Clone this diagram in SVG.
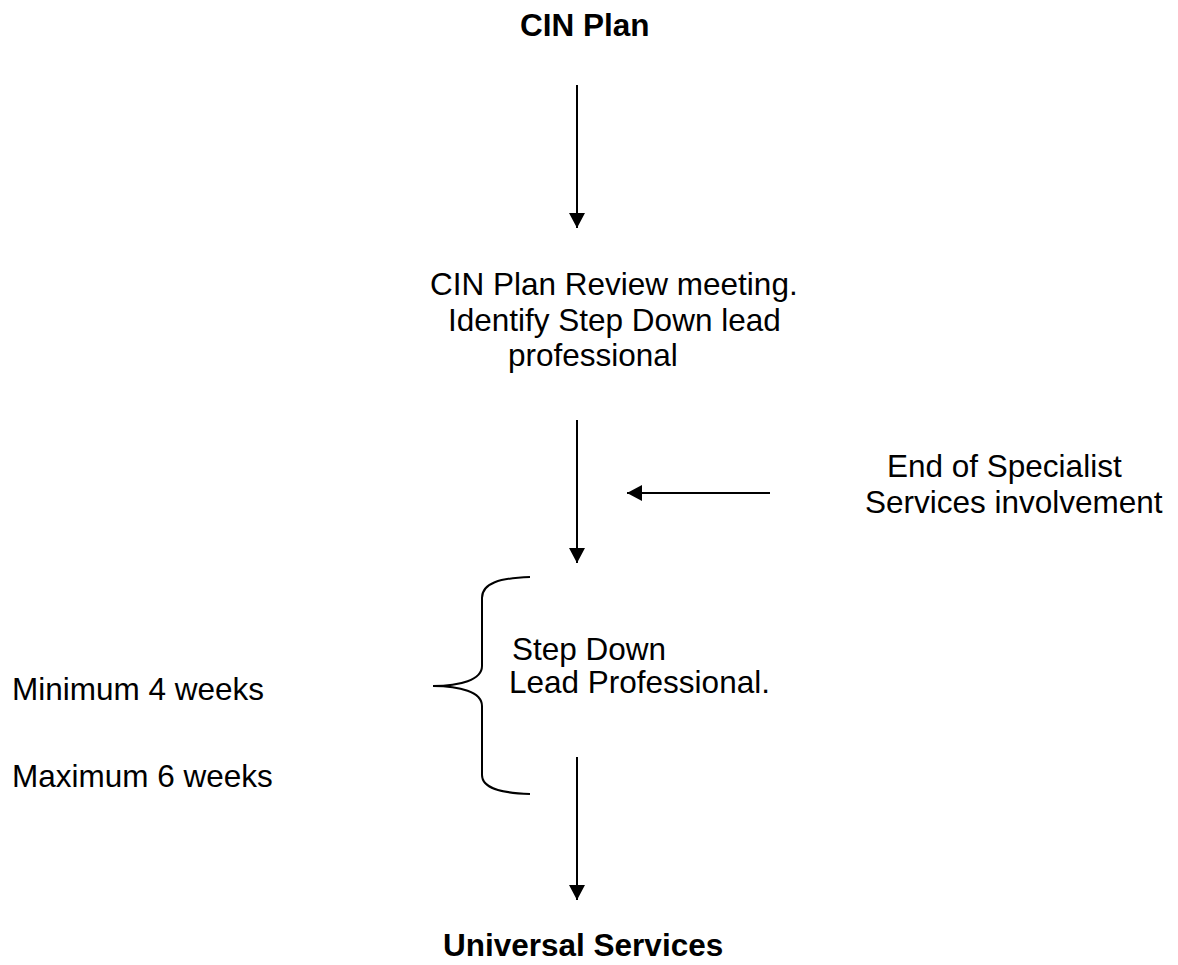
<svg xmlns="http://www.w3.org/2000/svg" width="1178" height="965" viewBox="0 0 1178 965">
<style>
text{font-family:"Liberation Sans",Arial,sans-serif;font-size:31.5px;fill:#000}
.b{font-weight:bold}
.c{stroke:#000;stroke-width:2;fill:none}
</style>
<defs>
<marker id="ah" markerUnits="userSpaceOnUse" markerWidth="16" markerHeight="16" viewBox="0 0 16 16" refX="15" refY="8" orient="auto">
<path d="M0,0 L15,8 L0,16 Z" fill="#000"/>
</marker>
</defs>
<rect width="1178" height="965" fill="#fff"/>
<g id="connectors">
<line class="c" x1="577" y1="85" x2="577" y2="228" marker-end="url(#ah)"/>
<line class="c" x1="577" y1="420" x2="577" y2="563" marker-end="url(#ah)"/>
<line class="c" x1="770" y1="493" x2="627" y2="493" marker-end="url(#ah)"/>
<line class="c" x1="577" y1="757" x2="577" y2="900" marker-end="url(#ah)"/>
</g>
<g id="cin-plan"><text class="b" x="520" y="36">CIN Plan</text></g>
<g id="review-meeting">
<text x="430" y="295">CIN Plan Review meeting.</text>
<text x="448" y="331">Identify Step Down lead</text>
<text x="508" y="366">professional</text>
</g>
<g id="end-specialist">
<text x="887" y="477">End of Specialist</text>
<text x="865" y="513">Services involvement</text>
</g>
<g id="brace">
<path class="c" stroke-width="1.6" d="M530,577 C500,578 482,583 482,598 L482,666 C482,680 460,686 433,686 C460,686 482,692 482,706 L482,775 C482,788 500,793 530,794"/>
</g>
<g id="step-down">
<text x="512" y="660">Step Down</text>
<text x="509" y="693">Lead Professional.</text>
</g>
<g id="minimum"><text x="12" y="700">Minimum 4 weeks</text></g>
<g id="maximum"><text x="12" y="787">Maximum 6 weeks</text></g>
<g id="universal"><text class="b" x="443" y="956">Universal Services</text></g>
</svg>
